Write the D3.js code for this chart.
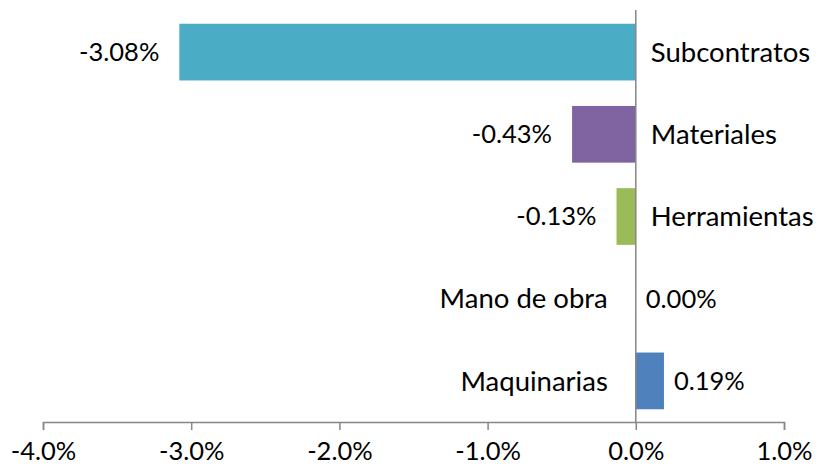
<!DOCTYPE html>
<html>
<head>
<meta charset="utf-8">
<script src="https://cdn.jsdelivr.net/npm/d3@7"></script>
<style>
  body { margin: 0; background: #fff; }
  text { font-family: Lato, "Open Sans", sans-serif; fill: #000; }
</style>
</head>
<body>
<div id="chart"></div>
<script>
// categories from top to bottom, and their change in percent (as fractions)
var categories = ["Subcontratos", "Materiales", "Herramientas", "Mano de obra", "Maquinarias"];
var values = [-0.0308, -0.0043, -0.0013, 0.0, 0.0019];
var tickValues = [-0.04, -0.03, -0.02, -0.01, 0.0, 0.01];
var colors = ["#4BACC6", "#8064A2", "#9BBB59", "#F79646", "#4F81BD"];

var width = 825, height = 468;
var catSize = 27.5;   // category names
var numSize = 25.5;   // numbers (data labels, ticks)

// Excel style numbers use a plain hyphen for negatives
var locale = d3.formatLocale({decimal: ".", thousands: ",", grouping: [3], currency: ["", ""], minus: "-"});
var fmtValue = locale.format(".2%");
var fmtTick = locale.format(".1%");

var svg = d3.select("#chart")
    .append("svg")
    .attr("width", width)
    .attr("height", height);

var x = d3.scaleLinear().domain([-0.04, 0.01]).range([43, 784]);
var y = d3.scaleBand().domain(categories).range([11, 422])
    .paddingInner(0.31).paddingOuter(0.155);

var data = categories.map(function(c, i){ return {name: c, value: values[i], color: colors[i]}; });

// bars
svg.selectAll("rect.bar")
    .data(data)
    .enter()
    .append("rect")
    .attr("class", "bar")
    .attr("x", function(d){ return x(Math.min(0, d.value)); })
    .attr("y", function(d){ return y(d.name); })
    .attr("width", function(d){ return Math.abs(x(d.value) - x(0)); })
    .attr("height", y.bandwidth())
    .attr("fill", function(d){ return d.color; });

// bottom axis
var axis = svg.append("g")
    .attr("transform", "translate(0,422)")
    .call(d3.axisBottom(x).tickValues(tickValues).tickFormat(fmtTick).tickSize(8).tickSizeOuter(8));
axis.select(".domain").attr("stroke", "#868686").attr("stroke-width", 1.5);
axis.selectAll(".tick line").attr("stroke", "#868686").attr("stroke-width", 1.5);
axis.selectAll(".tick text")
    .attr("y", 20)
    .attr("font-size", numSize)
    .style("font-family", "Lato, 'Open Sans', sans-serif")
    .attr("fill", "#000");

// vertical zero line
svg.append("line")
    .attr("x1", x(0)).attr("x2", x(0))
    .attr("y1", 10).attr("y2", 422)
    .attr("stroke", "#868686")
    .attr("stroke-width", 1.5);

// category labels on the opposite side of the bar
svg.selectAll("text.cat")
    .data(data)
    .enter()
    .append("text")
    .attr("class", "cat")
    .attr("x", function(d){ return d.value < 0 ? x(0) + 15 : x(0) - 28; })
    .attr("y", function(d){ return y(d.name) + y.bandwidth() / 2; })
    .attr("dy", "0.35em")
    .attr("text-anchor", function(d){ return d.value < 0 ? "start" : "end"; })
    .attr("font-size", catSize)
    .text(function(d){ return d.name; });

// value labels at the end of each bar
svg.selectAll("text.val")
    .data(data)
    .enter()
    .append("text")
    .attr("class", "val")
    .attr("x", function(d){ return d.value < 0 ? x(d.value) - 20 : x(d.value) + 10; })
    .attr("y", function(d){ return y(d.name) + y.bandwidth() / 2; })
    .attr("dy", "0.35em")
    .attr("text-anchor", function(d){ return d.value < 0 ? "end" : "start"; })
    .attr("font-size", numSize)
    .text(function(d){ return fmtValue(d.value); });
</script>
</body>
</html>
